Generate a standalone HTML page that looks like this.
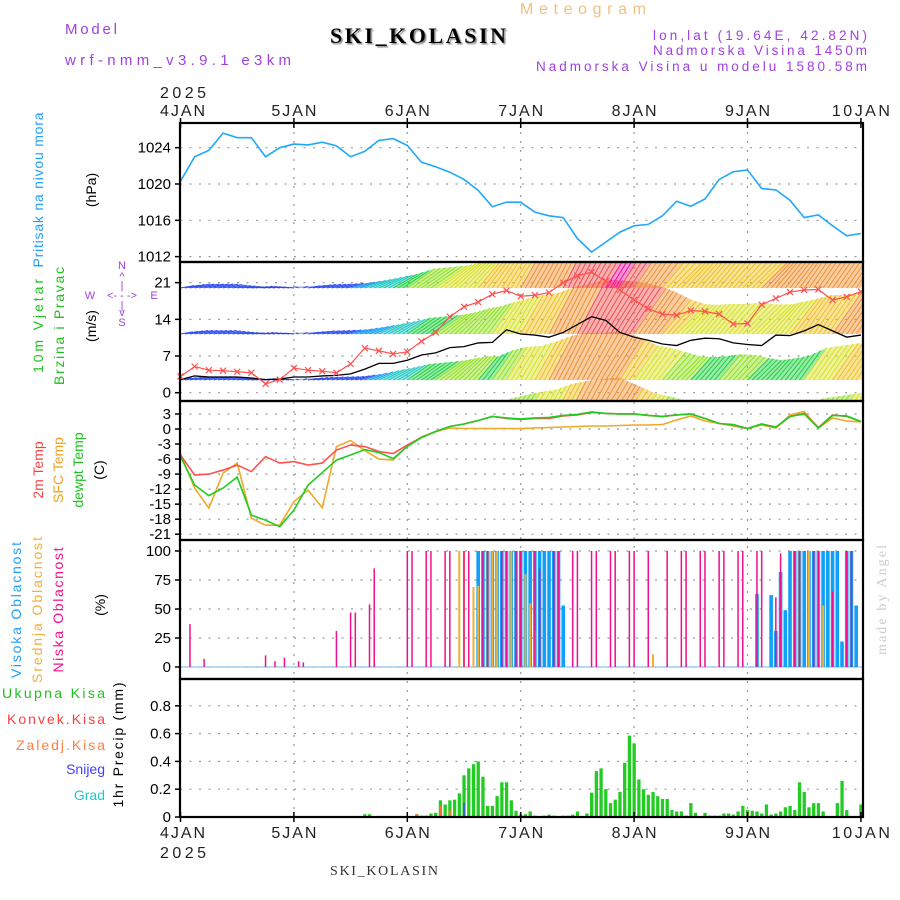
<!DOCTYPE html>
<html><head><meta charset="utf-8">
<style>
html,body{margin:0;padding:0;background:#fff;}
svg{display:block;font-family:"Liberation Sans",sans-serif;}
</style></head>
<body>
<svg id="chart" width="900" height="900" viewBox="0 0 900 900" xmlns="http://www.w3.org/2000/svg">
  <defs>
    <clipPath id="windClip"><rect x="181" y="263" width="681" height="137"/></clipPath>
    <filter id="shadow"><feDropShadow dx="1.5" dy="1.5" stdDeviation="0.6" flood-color="#888"/></filter>
  </defs>
  <rect x="0" y="0" width="900" height="900" fill="#fff"/>
  <text x="65" y="34" font-size="15" fill="#a040e0" textLength="52">Model</text>
  <text x="65" y="65" font-size="15" fill="#a040e0" textLength="226">wrf-nmm_v3.9.1 e3km</text>
  <text x="330" y="43" font-size="22" font-weight="bold" font-family="Liberation Serif, serif" fill="#000" textLength="176" filter="url(#shadow)">SKI_KOLASIN</text>
  <text x="520" y="14" font-size="16" fill="#f0c080" textLength="126">Meteogram</text>
  <text x="867" y="40" font-size="13.5" fill="#a040e0" text-anchor="end" textLength="214">lon,lat (19.64E, 42.82N)</text>
  <text x="867" y="55" font-size="13.5" fill="#a040e0" text-anchor="end" textLength="214">Nadmorska Visina 1450m</text>
  <text x="867" y="71" font-size="13.5" fill="#a040e0" text-anchor="end" textLength="331">Nadmorska Visina u modelu 1580.58m</text>
  <text x="160" y="98" font-size="16" fill="#222" textLength="46">2025</text>
  <text x="160" y="858" font-size="16" fill="#222" textLength="46">2025</text>
  <text x="330" y="875" font-size="14" font-family="Liberation Serif, serif" fill="#333" textLength="108">SKI_KOLASIN</text>
  <text transform="translate(886,655) rotate(-90)" font-size="14" font-family="Liberation Serif, serif" fill="#ccc" textLength="110">made by Angel</text>

  <text transform="translate(43,190) rotate(-90)" font-size="14" fill="#20a0ff" text-anchor="middle" textLength="155">Pritisak na nivou mora</text>
  <text transform="translate(96,190) rotate(-90)" font-size="14" fill="#000" text-anchor="middle">(hPa)</text>
  <text transform="translate(43,326) rotate(-90)" font-size="14" fill="#20c020" text-anchor="middle" textLength="94">10m Vjetar</text>
  <text transform="translate(64,326) rotate(-90)" font-size="14" fill="#20c020" text-anchor="middle" textLength="118">Brzina i Pravac</text>
  <text transform="translate(96,326) rotate(-90)" font-size="14" fill="#000" text-anchor="middle">(m/s)</text>
  <g fill="#a040e0" font-size="11" text-anchor="middle">
    <text x="122" y="269">N</text><text x="122" y="280">^</text><text x="122" y="289">|</text>
    <text x="122" y="299">&lt;- - -&gt;</text><text x="90" y="299">W</text><text x="154" y="299">E</text>
    <text x="122" y="309">|</text><text x="122" y="316">v</text><text x="122" y="326">S</text>
  </g>
  <text transform="translate(43,470) rotate(-90)" font-size="14" fill="#ff4040" text-anchor="middle">2m Temp</text>
  <text transform="translate(63,470) rotate(-90)" font-size="14" fill="#f0a020" text-anchor="middle">SFC Temp</text>
  <text transform="translate(83,470) rotate(-90)" font-size="14" fill="#20c020" text-anchor="middle">dewpt Temp</text>
  <text transform="translate(104,470) rotate(-90)" font-size="14" fill="#000" text-anchor="middle">(C)</text>
  <text transform="translate(21,610) rotate(-90)" font-size="14" fill="#20a0ff" text-anchor="middle" textLength="136">Visoka Oblacnost</text>
  <text transform="translate(42,610) rotate(-90)" font-size="14" fill="#f0b040" text-anchor="middle" textLength="146">Srednja Oblacnost</text>
  <text transform="translate(63,610) rotate(-90)" font-size="14" fill="#f0108c" text-anchor="middle" textLength="125">Niska Oblacnost</text>
  <text transform="translate(105,605) rotate(-90)" font-size="14" fill="#000" text-anchor="middle">(%)</text>
  <text x="105" y="698" font-size="14" fill="#20c020" text-anchor="end" textLength="103">Ukupna Kisa</text>
  <text x="105" y="724" font-size="14" fill="#ff4040" text-anchor="end" textLength="98">Konvek.Kisa</text>
  <text x="105" y="750" font-size="14" fill="#ff8040" text-anchor="end" textLength="89">Zaledj.Kisa</text>
  <text x="105" y="774" font-size="14" fill="#4040ff" text-anchor="end">Snijeg</text>
  <text x="105" y="800" font-size="14" fill="#20c8c8" text-anchor="end">Grad</text>
  <text transform="translate(123,745) rotate(-90)" font-size="14" fill="#000" text-anchor="middle" textLength="125">1hr Precip (mm)</text>

  <g id="grid"></g>
  <g id="marks"></g>
  <g id="frames"></g>
</svg>
<script>
const dayLabels = ["4JAN","5JAN","6JAN","7JAN","8JAN","9JAN","10JAN"];
const hours3 = [0,3,6,9,12,15,18,21,24,27,30,33,36,39,42,45,48,51,54,57,60,63,66,69,72,75,78,81,84,87,90,93,96,99,102,105,108,111,114,117,120,123,126,129,132,135,138,141,144];
const pressure = [1020.3,1023.0,1023.7,1025.6,1025.1,1025.1,1023.0,1024.0,1024.4,1024.3,1024.6,1024.2,1023.0,1023.6,1024.8,1025.0,1024.25,1022.4,1021.9,1021.3,1020.5,1019.3,1017.5,1018.0,1018.0,1016.9,1016.5,1016.3,1014.0,1012.5,1013.6,1014.7,1015.4,1015.55,1016.5,1018.1,1017.55,1018.35,1020.5,1021.35,1021.55,1019.5,1019.35,1018.2,1016.3,1016.6,1015.4,1014.3,1014.55];
const pressureTicks = [1012,1016,1020,1024];
const windSpeed = [2.5,3.2,3.0,3.0,3.0,2.8,2.5,2.6,3.0,3.0,3.2,3.3,3.6,4.5,5.6,5.6,6.2,7.2,7.6,8.6,8.8,9.5,9.6,12.0,11.2,11.0,10.6,11.5,13.0,14.5,13.8,11.5,10.6,10.0,9.3,9.0,10.0,10.4,10.3,9.5,9.2,9.0,11.0,10.9,11.8,13.0,11.8,10.6,11.0];
const windGust = [3.1,5.0,4.3,4.2,4.0,3.8,1.7,2.5,4.7,4.3,4.1,3.8,5.5,8.5,8.0,7.4,7.8,9.8,11.5,14.5,16.4,17.3,18.8,19.5,18.4,18.6,19.1,21.0,22.3,23.0,21.3,19.6,17.7,16.0,15.0,14.8,15.7,15.5,15.0,13.1,13.2,16.8,18.0,19.2,19.6,19.7,17.7,18.3,19.3];
const windDir = [10,15,15,15,10,5,175,170,175,10,15,15,15,20,25,30,35,35,35,40,45,50,55,58,60,60,62,63,62,60,58,58,55,55,50,45,48,50,50,48,45,45,50,52,55,55,55,55,55];
const band0Speed = [3,3,3,3,3,3,2,2,2,3,3,3,4,5,6,7,8,9,10,10,10,10,12,13,14,15,17,18,19,20,18,16,14,13,12,11,10,10,11,11,10,9,9,10,12,13,14,15,16];
const band1Speed = [4,4.5,4.5,4.5,4,3.5,2.5,2.5,3,3.5,4,4.5,5,6,8,9,10,11,12,12,12,11,13,14,14,16,18,19,19,20,19,17,15,14,13,12,11,11,12,12,11,10,10,11,14,15,16,16,17];
const band2Speed = [4.5,5,5,5,4.5,4,3,3,3.5,4,4.5,5,6,7,8,9,10,11,12,12,13,13,14,15,16,17,19,20,22,22,22,21,20,18,16,15,14,14,14,15,15,15,15,16,17,17,18,18,19];
const band3Speed = [5,5.5,5.5,5.5,5,4.5,3.5,3.5,4,4.5,5,5.5,7,8,9,10,12,13,14,14,15,16,17,17,18,19,20,21,22,23,24,22,20,18,17,17,17,17,17,17,17,18,18,18,19,19,19,20,20];
const windTicks = [0,7,14,21];
const temp2m = [-5.2,-9.2,-9.0,-8.2,-7.2,-8.5,-5.5,-6.8,-6.5,-7.2,-6.8,-4.2,-3.2,-3.5,-4.5,-4.9,-3.2,-1.7,-0.5,0.5,1.0,1.7,2.5,2.1,1.9,2.1,2.1,2.6,2.8,3.3,3.1,3.0,3.0,2.7,2.5,2.8,3.0,2.1,1.1,0.8,0.1,1.0,0.3,2.5,3.1,0.3,2.8,2.5,1.5];
const tempSfc = [-5.0,-11.8,-15.8,-8.8,-6.8,-17.8,-19.2,-19.2,-14.5,-12.2,-15.7,-3.5,-2.3,-4.3,-6.0,-6.2,-3.4,-1.6,-0.5,0.2,0.1,0.1,0.1,0.1,0.1,0.2,0.3,0.4,0.5,0.6,0.6,0.7,0.8,0.8,0.9,1.8,2.6,1.6,1.1,0.6,0.1,0.8,0.2,2.8,3.5,0.2,2.2,1.6,1.4];
const tempDew = [-5.5,-11.2,-13.3,-11.8,-9.6,-17.2,-18.2,-19.5,-16.2,-11.2,-8.7,-6.2,-5.2,-4.1,-4.7,-5.9,-3.5,-1.7,-0.5,0.5,1.0,1.7,2.5,2.2,2.0,2.2,2.3,2.7,2.9,3.4,3.1,3.0,3.0,2.7,2.5,2.8,3.0,2.1,1.1,0.9,0.1,1.0,0.4,2.5,3.0,0.2,2.7,2.6,1.5];
const tempTicks = [3,0,-3,-6,-9,-12,-15,-18,-21];
const lowHours = [2,5,18,20,22,25,26,33,36,37,40,41,48,49,52,53,56,57,60,61,64,65,68,69,71,72,75,76,79,80,83,84,87,88,91,92,95,96,99,103,106,107,110,111,114,115,118,119,122,123,126,127,130,131,134,135,138,141,142];
const lowVals  = [37,7,10,5,8,5,4,31,47,47,54,85,100,100,100,100,100,100,100,100,100,100,100,100,100,100,100,85,100,100,100,100,100,100,100,100,100,100,100,100,100,100,100,100,100,100,100,100,100,100,60,98,100,100,100,100,65,100,100];
const midHours = [59,60,62,63,65,66,67,69,70,73,74,75,100,131,133,135,136];
const midVals  = [100,100,69,70,100,100,100,100,100,80,55,31,11,100,100,100,53];
const highHours = [63,64,65,66,67,68,69,70,71,72,73,74,75,76,77,78,79,80,81,122,125,126,127,128,129,130,131,132,133,134,135,136,137,138,139,140,141,142,143];
const highVals  = [100,100,100,100,100,100,100,100,100,100,100,100,100,100,100,100,100,100,53,63,62,31,82,49,100,100,100,100,100,100,100,100,100,100,100,22,100,100,53];
const cloudTicks = [0,25,50,75,100];
const precipTotal = [0,0,0,0,0,0,0,0,0,0,0,0,0,0,0,0,0,0,0,0,0,0,0,0,0,0,0,0,0,0,0,0,0,0,0,0,0,0,0,0.02,0.02,0,0,0,0,0,0,0,0,0,
 0.02,0.01,0.01,0.025,0.03,0.12,0.09,0.12,0.125,0.17,0.30,0.35,0.38,0.40,0.29,0.08,0.08,0.15,0.25,0.25,0.12,0.045,0.017,0.02,0.04,0.01,0.005,0.01,0.017,0.01,
 0,0.01,0.01,0.017,0.04,0,0.025,0.175,0.33,0.35,0.2,0.1,0.125,0.18,0.39,0.585,0.53,0.27,0.2,0.16,0.18,0.15,0.13,0.13,0.05,0.04,0.04,0.01,0.1,0.03,
 0,0.03,0.01,0.01,0.01,0.025,0.025,0.017,0.04,0.08,0.05,0.045,0.04,0.025,0.09,0.017,0.025,0.04,0.07,0.08,0.05,0.25,0.18,0.07,0.1,0.1,0.04,0,0,0.1,0.26,0.05,0,0,0.09];
const freezeHours = [50,55,57,120];
const freezeVals = [0.02,0.08,0.05,0.04];
const snowHours = [60];
const snowVals = [0.1];
const precipTicks = [0,0.2,0.4,0.6,0.8];

const NS = "http://www.w3.org/2000/svg";
const X = h => 180.5 + h * 4.725;
const yP = p => 184 - (p - 1020) * 9.08;
const yW = v => 392.7 - v * 5.24;
const yT = t => 429 - t * 5.01;
const yC = c => 667 - c * 1.16;
const yR = r => 817 - r * 139;
const PLOT_L = 180, PLOT_R = 863;
const panels = [[123,262],[262,401],[401,540],[540,679],[679,817]];
const bandBases = [-6.35, 2.42, 11.2, 19.98];
const ARROW_PX = 2.8;

function el(tag, attrs, parent) {
  const e = document.createElementNS(NS, tag);
  for (const k in attrs) e.setAttribute(k, attrs[k]);
  (parent || document.getElementById('marks')).appendChild(e);
  return e;
}
const grid = document.getElementById('grid');
const marks = document.getElementById('marks');
const frames = document.getElementById('frames');

dayLabels.forEach((d, i) => {
  const x = X(i * 24);
  if (i > 0 && i < 6) {
    const l = el('line', {x1:x, x2:x, y1:123, y2:817, stroke:'#999', 'stroke-width':1.2, 'stroke-dasharray':'2,7'}, grid);
    
    
  }
  const anchor = i===0 ? 'start' : 'middle';
  const lx = i===0 ? 160 : x;
  const tl = i===6 ? 58 : 45;
  const t1 = el('text', {x:lx, y:116, 'font-size':16, fill:'#222', 'text-anchor':anchor, textLength:tl}, frames);
  t1.textContent = d;
  
  
  const t2 = el('text', {x:lx, y:838, 'font-size':16, fill:'#222', 'text-anchor':anchor, textLength:tl}, frames);
  t2.textContent = d;
  
  
  [123, 817].forEach(yy => {
    const tk = el('line', {x1:x, x2:x, y1:yy-5, y2:yy+5, stroke:'#000', 'stroke-width':1.5}, frames);
    
    
  });
});

function yAxis(ticks, fy, fmt) {
  ticks.forEach(v => {
    const y = fy(v);
    const g = el('line', {x1:PLOT_L, x2:PLOT_R, y1:y, y2:y, stroke:'#999', 'stroke-width':1.2, 'stroke-dasharray':'2,7.5'}, grid);
    
    
    const tk = el('line', {x1:PLOT_L-5, x2:PLOT_L, y1:y, y2:y, stroke:'#000', 'stroke-width':1.5}, frames);
    
    
    const t = el('text', {x:171, y:y+5, 'font-size':15, fill:'#000', 'text-anchor':'end'}, frames);
    t.textContent = fmt(v);
    
    
  });
}
yAxis(pressureTicks, yP, v => String(v));
yAxis(windTicks, yW, v => String(v));
yAxis(tempTicks, yT, v => String(v));
yAxis(cloudTicks, yC, v => String(v));
yAxis(precipTicks, yR, v => v === 0 ? '0' : v.toFixed(1));

const pLine = el('polyline', {points: hours3.map((h,i) => X(h)+','+yP(pressure[i])).join(' '), fill:'none', stroke:'#20a8f8', 'stroke-width':1.6});



function speedColor(s) {
  const stops = [[0,'#3040e0'],[4,'#3050f0'],[6,'#20a0f0'],[8,'#20c8c0'],[10,'#20d040'],[12,'#90e020'],[14,'#d8e020'],[16,'#f0c020'],[18,'#f09030'],[21,'#f05050'],[24,'#f010a0']];
  let c = stops[0][1];
  for (const st of stops) if (s >= st[0]) c = st[1];
  return c;
}
const windG = el('g', {'clip-path':'url(#windClip)'});


[band0Speed, band1Speed, band2Speed, band3Speed].forEach((sp, b) => {
  const by = yW(bandBases[b]);
  const tip = i => {
    const a = windDir[i] * Math.PI / 180, L = sp[i] * ARROW_PX;
    return [X(hours3[i]) + L * Math.cos(a), by - L * Math.sin(a)];
  };
  for (let i = 0; i < hours3.length - 1; i++) {
    const t1 = tip(i), t2 = tip(i+1);
    const poly = el('polygon', {points: [X(hours3[i])+','+by, t1.join(','), t2.join(','), X(hours3[i+1])+','+by].join(' '), fill: speedColor(sp[i]), 'fill-opacity':0.45, stroke:'none'}, windG);
    
    
    for (let k = 0; k < 3; k++) {
      const f = k / 3;
      const bx = X(hours3[i]) + f * (X(hours3[i+1]) - X(hours3[i]));
      const tx = t1[0] + f * (t2[0] - t1[0]), ty = t1[1] + f * (t2[1] - t1[1]);
      const ln = el('line', {x1:bx, y1:by, x2:tx, y2:ty, stroke: speedColor(sp[i]), 'stroke-width':1}, windG);
      
      
    }
  }
});
const wLine = el('polyline', {points: hours3.map((h,i) => X(h)+','+yW(windSpeed[i])).join(' '), fill:'none', stroke:'#000', 'stroke-width':1.3});


const gLine = el('polyline', {points: hours3.map((h,i) => X(h)+','+yW(windGust[i])).join(' '), fill:'none', stroke:'#ff5050', 'stroke-width':1.2});


hours3.forEach((h,i) => {
  const x = X(h), y = yW(windGust[i]);
  const m = el('path', {d:`M${x-3},${y-3}L${x+3},${y+3}M${x-3},${y+3}L${x+3},${y-3}`, stroke:'#ff5050', 'stroke-width':1.2});
  
  
});

[[tempSfc,'#f0a828','sfc-temp-line'],[temp2m,'#ff5050','temp-2m-line'],[tempDew,'#20cc20','dewpoint-line']].forEach(([arr,col,name]) => {
  const l = el('polyline', {points: hours3.map((h,i) => X(h)+','+yT(arr[i])).join(' '), fill:'none', stroke:col, 'stroke-width':1.6});
  
  
});

const cb = el('line', {x1:181, x2:862, y1:yC(0), y2:yC(0), stroke:'#9cd0f0', 'stroke-width':1.5});


highHours.forEach((h,i) => {
  const r = el('rect', {x:X(h)-1.8, y:yC(highVals[i]), width:3.6, height:yC(0)-yC(highVals[i]), fill:'#10a0f8'});
  
  
});
midHours.forEach((h,i) => {
  const r = el('rect', {x:X(h)-1, y:yC(midVals[i]), width:2, height:yC(0)-yC(midVals[i]), fill:'#f0b030'});
  
  
});
lowHours.forEach((h,i) => {
  const r = el('rect', {x:X(h)-0.75, y:yC(lowVals[i]), width:1.5, height:yC(0)-yC(lowVals[i]), fill:'#f0108c'});
  
  
});

precipTotal.forEach((v,h) => {
  if (v <= 0) return;
  const r = el('rect', {x:X(h)-1.6, y:yR(v), width:3.3, height:yR(0)-yR(v), fill:'#22cc22'});
  
  
});
freezeHours.forEach((h,i) => {
  const r = el('rect', {x:X(h)-1, y:yR(freezeVals[i]), width:2, height:yR(0)-yR(freezeVals[i]), fill:'#ff7030'});
  
  
});
snowHours.forEach((h,i) => {
  const r = el('rect', {x:X(h)-0.7, y:yR(snowVals[i]), width:1.4, height:yR(0)-yR(snowVals[i]), fill:'#4040ff'});
  
  
});

panels.forEach(([t,b], i) => {
  const r = el('rect', {x:PLOT_L, y:t, width:PLOT_R-PLOT_L, height:b-t, fill:'none', stroke:'#000', 'stroke-width':2.2}, frames);
  
  
});
</script>
</body></html>
